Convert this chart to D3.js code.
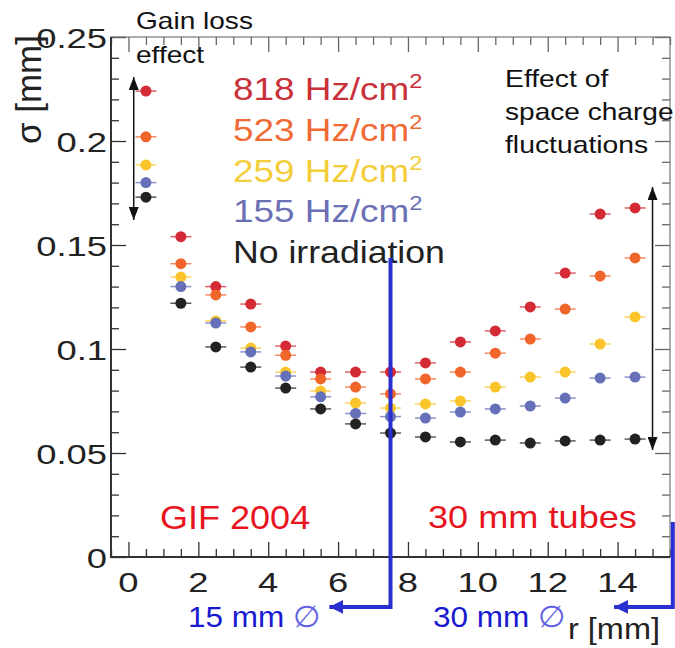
<!DOCTYPE html>
<html>
<head>
<meta charset="utf-8">
<script src="https://cdn.jsdelivr.net/npm/d3@7"></script>
<style>
  html, body { margin: 0; padding: 0; background: #fff; }
  svg { display: block; font-family: "Liberation Sans", Arial, Helvetica, sans-serif; }
</style>
</head>
<body>
<svg id="chart" width="675" height="648"></svg>
<script>
// Drift radius (mm) of each bin
const radii = [0.5, 1.5, 2.5, 3.5, 4.5, 5.5, 6.5, 7.5, 8.5, 9.5, 10.5, 11.5, 12.5, 13.5, 14.5];

// Spatial resolution sigma (mm) per irradiation rate
const sigma818 = [0.224, 0.154, 0.130, 0.1216, 0.1014, 0.0889, 0.0889, 0.0889, 0.0933, 0.1034, 0.1087, 0.1202, 0.1365, 0.1649, 0.1678];
const sigma523 = [0.202, 0.141, 0.126, 0.1106, 0.097, 0.0856, 0.0817, 0.0784, 0.0856, 0.0889, 0.098, 0.1048, 0.1192, 0.1351, 0.1438];
const sigma259 = [0.1885, 0.1346, 0.1135, 0.1005, 0.0889, 0.0798, 0.074, 0.0716, 0.0736, 0.075, 0.0817, 0.0865, 0.0889, 0.1024, 0.1154];
const sigma155 = [0.180, 0.130, 0.1125, 0.0986, 0.087, 0.077, 0.069, 0.0675, 0.0668, 0.0697, 0.0712, 0.0726, 0.0764, 0.086, 0.0865];
const sigmaNone = [0.173, 0.122, 0.101, 0.0913, 0.0812, 0.0712, 0.064, 0.0596, 0.0577, 0.0553, 0.0562, 0.0548, 0.0558, 0.0562, 0.0567];

const seriesLabels = ["818 Hz/cm", "523 Hz/cm", "259 Hz/cm", "155 Hz/cm", "No irradiation"];
const seriesColors = ["#d42a35", "#f0652a", "#f9c52a", "#6670b8", "#222222"];
const labelColors = ["#c8303a", "#ef6a35", "#f3cd3a", "#6b70b5", "#222222"];

const xMajor = [0, 2, 4, 6, 8, 10, 12, 14];
const yMajor = [0, 0.05, 0.1, 0.15, 0.2, 0.25];
const yTickText = ["0", "0.05", "0.1", "0.15", "0.2", "0.25"];

const svg = d3.select("#chart");
const x = d3.scaleLinear().domain([-0.5, 15.5]).range([111, 670]);
const y = d3.scaleLinear().domain([0, 0.25]).range([557, 37]);

const xMinor = d3.range(-0.5, 15.51, 0.5).filter(v => !xMajor.includes(v));
const yMinor = d3.range(0, 0.2501, 0.01).map(v => +v.toFixed(2)).filter(v => !yMajor.includes(v));

// frame + ticks (ROOT style: all ticks point inward, mirrored on top/right)
function tickAxis(axisFn, scale, values, size, tr, color) {
  const g = svg.append("g").attr("transform", tr)
    .call(axisFn(scale).tickValues(values).tickSizeInner(size).tickSizeOuter(0).tickFormat(""));
  g.select(".domain").remove();
  g.selectAll(".tick line").attr("stroke", color).attr("stroke-width", 1.3);
  return g;
}
tickAxis(d3.axisBottom, x, xMajor, -15, "translate(0,557)", "#333");
tickAxis(d3.axisBottom, x, xMinor, -8, "translate(0,557)", "#333");
tickAxis(d3.axisTop, x, xMajor, -15, "translate(0,37)", "#666");
tickAxis(d3.axisTop, x, xMinor, -8, "translate(0,37)", "#666");
tickAxis(d3.axisLeft, y, yMajor, -15, "translate(111,0)", "#333");
tickAxis(d3.axisLeft, y, yMinor, -8, "translate(111,0)", "#333");
tickAxis(d3.axisRight, y, yMajor, -15, "translate(670,0)", "#666");
tickAxis(d3.axisRight, y, yMinor, -8, "translate(670,0)", "#666");

svg.append("rect").attr("x", x(-0.5)).attr("y", y(0.25))
  .attr("width", x(15.5) - x(-0.5)).attr("height", y(0) - y(0.25))
  .attr("fill", "none").attr("stroke", "#777").attr("stroke-width", 1.2);
svg.append("line").attr("x1", x(-0.5)).attr("x2", x(-0.5)).attr("y1", y(0.25)).attr("y2", y(0) + 1)
  .attr("stroke", "#333").attr("stroke-width", 2);
svg.append("line").attr("x1", x(-0.5) - 1).attr("x2", x(15.5)).attr("y1", y(0)).attr("y2", y(0))
  .attr("stroke", "#333").attr("stroke-width", 2);

// horizontally widened text helper
function label(px, py, str, opt) {
  const t = svg.append("text")
    .attr("transform", `translate(${px},${py}) scale(${opt.sx || 1},1)`)
    .attr("font-size", opt.size)
    .attr("fill", opt.fill || "#222")
    .attr("text-anchor", opt.anchor || "start")
    .text(str);
  return t;
}

// tick labels
yMajor.forEach((v, i) => label(107, y(v) + 11, yTickText[i], { size: 28, sx: 1.3, anchor: "end" }));
xMajor.forEach(v => label(x(v), 592, String(v), { size: 28, sx: 1.3, anchor: "middle" }));

// axis titles
svg.append("text").attr("transform", "translate(41,35) rotate(-90)")
  .attr("font-size", 35).attr("fill", "#222").attr("text-anchor", "end").text("σ [mm]");
label(568, 639, "r [mm]", { size: 29, sx: 1.12 });

// data markers with horizontal bin error bars
const allSeries = [sigma818, sigma523, sigma259, sigma155, sigmaNone];
allSeries.forEach((vals, si) => {
  const g = svg.append("g");
  const pts = radii.map((r, i) => ({ r, s: vals[i] }));
  g.selectAll("line").data(pts).join("line")
    .attr("x1", d => x(d.r - 0.3)).attr("x2", d => x(d.r + 0.3))
    .attr("y1", d => y(d.s)).attr("y2", d => y(d.s))
    .attr("stroke", seriesColors[si]).attr("stroke-width", 1.5).attr("opacity", 0.75);
  g.selectAll("circle").data(pts).join("circle")
    .attr("cx", d => x(d.r)).attr("cy", d => y(d.s)).attr("r", 5.5)
    .attr("fill", seriesColors[si]);
});

// legend
const legendY = [100, 141, 182, 222, 263];
seriesLabels.forEach((s, i) => {
  const t = label(233, legendY[i], s, { size: 31, sx: i < 4 ? 1.19 : 1.15, fill: labelColors[i] });
  if (i < 4) t.append("tspan").attr("dy", -12).attr("font-size", 20).text("2");
});

// annotations
label(136, 29, "Gain loss", { size: 23, sx: 1.22, fill: "#111" });
label(136, 63, "effect", { size: 23, sx: 1.22, fill: "#111" });
label(505, 87, "Effect of", { size: 24, sx: 1.18, fill: "#111" });
label(505, 120, "space charge", { size: 24, sx: 1.17, fill: "#111" });
label(505, 153, "fluctuations", { size: 24, sx: 1.18, fill: "#111" });
label(160, 529, "GIF 2004", { size: 34, sx: 1.06, fill: "#e8141e" });
label(428, 528, "30 mm tubes", { size: 32, sx: 1.13, fill: "#e8141e" });

const defs = svg.append("defs");
function arrowHead(id, color, w, l) {
  defs.append("marker").attr("id", id).attr("viewBox", `0 ${-w} ${l} ${2 * w}`)
    .attr("refX", l).attr("refY", 0).attr("markerUnits", "userSpaceOnUse")
    .attr("markerWidth", l).attr("markerHeight", 2 * w).attr("orient", "auto-start-reverse")
    .append("path").attr("d", `M0,${-w}L${l},0L0,${w}Z`).attr("fill", color);
}
arrowHead("blk", "#111", 5, 13);
arrowHead("blu", "#2a2fcf", 7, 14);

function doubleArrow(r, s0, s1) {
  svg.append("line").attr("x1", x(r)).attr("x2", x(r)).attr("y1", y(s0)).attr("y2", y(s1))
    .attr("stroke", "#111").attr("stroke-width", 1.5)
    .attr("marker-start", "url(#blk)").attr("marker-end", "url(#blk)");
}
doubleArrow(0.15, 0.2308, 0.162);
doubleArrow(15.0, 0.1779, 0.0514);

// tube-radius markers
function tubeArrow(r, sTop, sBottom, rTip) {
  svg.append("path")
    .attr("d", `M${x(r)},${y(sTop)}L${x(r)},${y(sBottom)}L${x(rTip)},${y(sBottom)}`)
    .attr("fill", "none").attr("stroke", "#2a2fcf").attr("stroke-width", 4)
    .attr("marker-end", "url(#blu)");
}
tubeArrow(7.5, 0.1438, -0.024, 5.75);
tubeArrow(15.58, 0.0168, -0.024, 13.9);

function tubeLabel(px, str) {
  const t = label(px, 627, str, { size: 30, sx: 1.05, fill: "#1a1ad0" });
  t.append("tspan").attr("fill", "#6060e0").attr("font-weight", 300).text(" ∅");
}
tubeLabel(188, "15 mm");
tubeLabel(433, "30 mm");
</script>
</body>
</html>
